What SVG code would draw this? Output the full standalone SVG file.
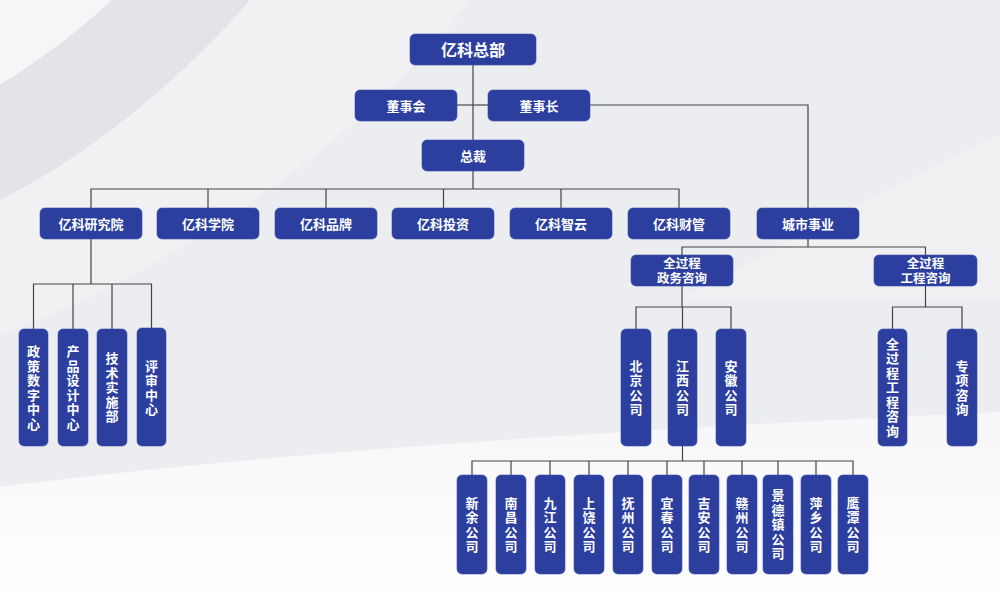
<svg xmlns="http://www.w3.org/2000/svg" width="1000" height="610" viewBox="0 0 1000 610">
<defs>
<linearGradient id="bgw" x1="0" y1="0" x2="0" y2="1">
<stop offset="0" stop-color="#f7f7f9"/>
<stop offset="1" stop-color="#ffffff"/>
</linearGradient>
<style>
.n rect{fill:#2c3f9f;stroke:#3a4dab;stroke-width:0.6}
.n text{fill:#ffffff;font-family:"Noto Sans CJK SC","Noto Sans",sans-serif;font-weight:bold;font-size:13px;text-anchor:middle}
.n text.t{font-size:16px}
.n text.s{font-size:12.5px}
.n text.v{writing-mode:vertical-rl;letter-spacing:1.5px}
#connectors path{fill:none;stroke:#444;stroke-width:1.2}
</style>
</defs>
<g id="background">
<rect x="0" y="0" width="1000" height="610" fill="#ecedf1"/>
<path d="M0,0 L112,0 C80,30 40,60 0,85 Z" fill="#f6f6f8"/>
<path d="M112,0 L250,0 C190,70 100,150 0,200 L0,85 C40,60 80,30 112,0 Z" fill="#e3e4e8"/>
<path d="M250,0 L470,0 C380,120 200,260 0,335 L0,200 C100,150 190,70 250,0 Z" fill="#f1f1f4"/>
<path d="M1000,135 C900,180 790,240 680,300 L1000,300 Z" fill="#f0f0f3"/>
<path d="M0,487 C250,455 600,430 1000,412 L1000,610 L0,610 Z" fill="url(#bgw)"/>
</g>
<g id="connectors">
<path d="M473,65 V189"/>
<path d="M457,105 H488"/>
<path d="M590,105 H808 V208"/>
<path d="M91,208 V189 H679 V208"/>
<path d="M208,189 V208 M326,189 V208 M443.5,189 V208 M561,189 V208"/>
<path d="M91,239 V284"/>
<path d="M33.5,329 V284 H151.5 V329 M73,284 V329 M112,284 V329"/>
<path d="M808,239 V247"/>
<path d="M682,255 V247 H925.5 V255"/>
<path d="M682,286 V307"/>
<path d="M636,329 V307 H731 V329 M682.5,307 V329"/>
<path d="M925.5,286 V307"/>
<path d="M892.5,329 V307 H962 V329"/>
<path d="M682.5,446 V461"/>
<path d="M472,475 V461 H853 V475 M511,461 V475 M550,461 V475 M589,461 V475 M628,461 V475 M667,461 V475 M704,461 V475 M742,461 V475 M778,461 V475 M816,461 V475"/>
</g>
<g id="n-hq" class="n"><rect x="410" y="34" width="126" height="31" rx="5"/><text class="t" x="473" y="55.5">亿科总部</text></g>
<g id="n-board" class="n"><rect x="355" y="90" width="102" height="31" rx="5"/><text x="406" y="110.5">董事会</text></g>
<g id="n-chair" class="n"><rect x="488" y="90" width="102" height="31" rx="5"/><text x="539" y="110.5">董事长</text></g>
<g id="n-ceo" class="n"><rect x="422" y="140" width="102" height="31" rx="5"/><text x="473" y="160.5">总裁</text></g>
<g id="n-yjy" class="n"><rect x="40" y="208" width="102" height="31" rx="5"/><text x="91" y="228.5">亿科研究院</text></g>
<g id="n-xy" class="n"><rect x="157" y="208" width="102" height="31" rx="5"/><text x="208" y="228.5">亿科学院</text></g>
<g id="n-pp" class="n"><rect x="275" y="208" width="102" height="31" rx="5"/><text x="326" y="228.5">亿科品牌</text></g>
<g id="n-tz" class="n"><rect x="392" y="208" width="102" height="31" rx="5"/><text x="443" y="228.5">亿科投资</text></g>
<g id="n-zy" class="n"><rect x="510" y="208" width="102" height="31" rx="5"/><text x="561" y="228.5">亿科智云</text></g>
<g id="n-cg" class="n"><rect x="628" y="208" width="102" height="31" rx="5"/><text x="679" y="228.5">亿科财管</text></g>
<g id="n-cs" class="n"><rect x="757" y="208" width="102" height="31" rx="5"/><text x="808" y="228.5">城市事业</text></g>
<g id="n-zw" class="n"><rect x="631" y="255" width="102" height="31" rx="5"/><text class="s" x="682" y="267.5"><tspan x="682">全过程</tspan><tspan x="682" dy="15.5">政务咨询</tspan></text></g>
<g id="n-gc" class="n"><rect x="874" y="255" width="103" height="31" rx="5"/><text class="s" x="925.5" y="267.5"><tspan x="925.5">全过程</tspan><tspan x="925.5" dy="15.5">工程咨询</tspan></text></g>
<g id="n-zc" class="n"><rect x="19" y="329" width="29" height="117" rx="5"/><text class="v" x="33.5" y="388.3">政策数字中心</text></g>
<g id="n-cp" class="n"><rect x="58" y="329" width="30" height="117" rx="5"/><text class="v" x="73" y="388.3">产品设计中心</text></g>
<g id="n-js" class="n"><rect x="97" y="329" width="30" height="117" rx="5"/><text class="v" x="112" y="388.3">技术实施部</text></g>
<g id="n-ps" class="n"><rect x="137" y="328" width="29" height="118" rx="5"/><text class="v" x="151.5" y="388.3">评审中心</text></g>
<g id="n-bj" class="n"><rect x="621" y="329" width="30" height="117" rx="5"/><text class="v" x="636" y="388.3">北京公司</text></g>
<g id="n-jx" class="n"><rect x="668" y="329" width="29" height="117" rx="5"/><text class="v" x="682.5" y="388.3">江西公司</text></g>
<g id="n-ah" class="n"><rect x="716" y="329" width="30" height="117" rx="5"/><text class="v" x="731" y="388.3">安徽公司</text></g>
<g id="n-qgc" class="n"><rect x="878" y="329" width="29" height="117" rx="5"/><text class="v" x="892.5" y="388.3">全过程工程咨询</text></g>
<g id="n-zx" class="n"><rect x="947" y="329" width="30" height="117" rx="5"/><text class="v" x="962" y="388.3">专项咨询</text></g>
<g id="n-xinyu" class="n"><rect x="457" y="475" width="30" height="99" rx="5"/><text class="v" x="472" y="525.3">新余公司</text></g>
<g id="n-nc" class="n"><rect x="496" y="475" width="30" height="99" rx="5"/><text class="v" x="511" y="525.3">南昌公司</text></g>
<g id="n-jj" class="n"><rect x="535" y="475" width="30" height="99" rx="5"/><text class="v" x="550" y="525.3">九江公司</text></g>
<g id="n-sr" class="n"><rect x="574" y="475" width="30" height="99" rx="5"/><text class="v" x="589" y="525.3">上饶公司</text></g>
<g id="n-fz" class="n"><rect x="613" y="475" width="30" height="99" rx="5"/><text class="v" x="628" y="525.3">抚州公司</text></g>
<g id="n-yc" class="n"><rect x="652" y="475" width="30" height="99" rx="5"/><text class="v" x="667" y="525.3">宜春公司</text></g>
<g id="n-ja" class="n"><rect x="689" y="475" width="30" height="99" rx="5"/><text class="v" x="704" y="525.3">吉安公司</text></g>
<g id="n-gz" class="n"><rect x="727" y="475" width="30" height="99" rx="5"/><text class="v" x="742" y="525.3">赣州公司</text></g>
<g id="n-jdz" class="n"><rect x="763" y="475" width="30" height="99" rx="5"/><text class="v" x="778" y="525.3">景德镇公司</text></g>
<g id="n-px" class="n"><rect x="801" y="475" width="30" height="99" rx="5"/><text class="v" x="816" y="525.3">萍乡公司</text></g>
<g id="n-yt" class="n"><rect x="838" y="475" width="30" height="99" rx="5"/><text class="v" x="853" y="525.3">鹰潭公司</text></g>
</svg>
